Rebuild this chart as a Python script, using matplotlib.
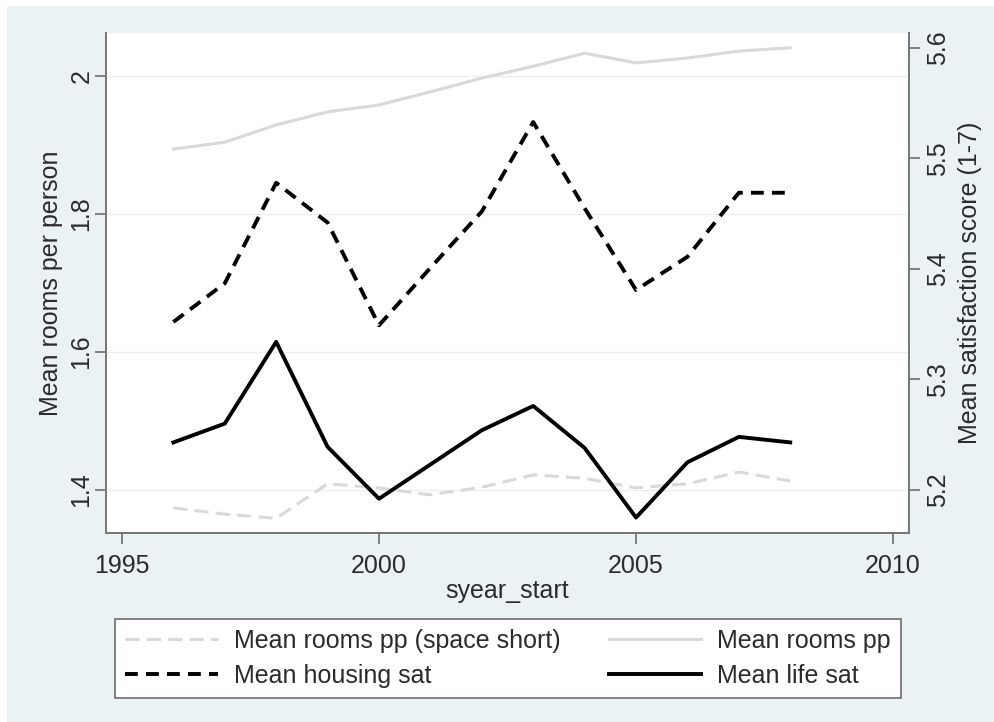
import matplotlib
matplotlib.use("Agg")
import matplotlib.pyplot as plt
from matplotlib.patches import Rectangle

plt.rcParams['font.family'] = ['Liberation Sans', 'DejaVu Sans']
plt.rcParams['text.color'] = '#2b2b2b'
plt.rcParams['axes.labelcolor'] = '#2b2b2b'
plt.rcParams['xtick.color'] = '#777777'
plt.rcParams['ytick.color'] = '#777777'
plt.rcParams['xtick.labelcolor'] = '#2b2b2b'
plt.rcParams['ytick.labelcolor'] = '#2b2b2b'

years = [1996, 1997, 1998, 1999, 2000, 2001, 2002, 2003, 2004, 2005, 2006, 2007, 2008]

# left axis: mean rooms per person
rooms_pp = [1.894, 1.904, 1.929, 1.948, 1.958, 1.977, 1.997, 2.014, 2.033, 2.019, 2.026, 2.036, 2.041]
rooms_pp_short = [1.374, 1.365, 1.359, 1.409, 1.403, 1.393, 1.404, 1.422, 1.417, 1.403, 1.409, 1.426, 1.413]

# right axis: mean satisfaction scores
housing_sat = [5.352, 5.387, 5.478, 5.442, 5.349, 5.401, 5.452, 5.533, 5.455, 5.381, 5.411, 5.469, 5.469]
life_sat = [5.243, 5.260, 5.334, 5.239, 5.192, 5.223, 5.254, 5.276, 5.238, 5.175, 5.225, 5.248, 5.243]

xticks = [1995, 2000, 2005, 2010]
left_ticks = [1.4, 1.6, 1.8, 2.0]
left_labels = ['1.4', '1.6', '1.8', '2']
right_ticks = [5.2, 5.3, 5.4, 5.5, 5.6]

light = '#d9d9d9'
fs = 18

fig = plt.figure(figsize=(9.95, 7.22), dpi=100)
fig.patch.set_facecolor('white')
fig.patches.append(Rectangle((7 / 995, 0), 1 - 7 / 995, 716 / 722, transform=fig.transFigure,
                             facecolor='#eaf2f5', edgecolor='none', zorder=-10))

ax = fig.add_axes([106 / 995, 189 / 722, 803 / 995, 500 / 722])
ax.set_facecolor('white')
ax2 = ax.twinx()

l1, = ax.plot(years, rooms_pp_short, color=light, lw=2.2, dashes=(4.6, 2.4))
l2, = ax.plot(years, rooms_pp, color=light, lw=2.2)
l3, = ax2.plot(years, housing_sat, color='black', lw=2.8, dashes=(3.3, 2.1))
l4, = ax2.plot(years, life_sat, color='black', lw=2.8)

ax.set_xlim(1994.69, 2010.31)
ax.set_ylim(1.3377, 2.0623)
ax2.set_ylim(5.161, 5.6136)

ax.set_xticks(xticks)
ax.set_yticks(left_ticks)
ax.set_yticklabels(left_labels, rotation=90, va='center')
ax2.set_yticks(right_ticks)
ax2.set_yticklabels([str(t) for t in right_ticks], rotation=90, va='center')

ax.grid(axis='y', color='#eeeeee', lw=1)
ax.set_axisbelow(True)

for a in (ax, ax2):
    a.spines['top'].set_visible(False)
    for s in ('left', 'right', 'bottom'):
        a.spines[s].set_color('#777777')
        a.spines[s].set_linewidth(1.3)
    a.tick_params(labelsize=fs, length=8, width=1.3)

ax.tick_params(axis='y', pad=1)
ax.tick_params(axis='x', pad=7)
ax2.tick_params(axis='y', pad=4)

ax.set_xlabel('syear_start', fontsize=fs, labelpad=1)
ax.set_ylabel('Mean rooms per person', fontsize=fs, labelpad=5)
ax2.set_ylabel('Mean satisfaction score (1-7)', fontsize=fs, labelpad=6)

leg = fig.legend([l1, l3, l2, l4],
                 ['Mean rooms pp (space short)', 'Mean housing sat', 'Mean rooms pp', 'Mean life sat'],
                 loc='lower left', bbox_to_anchor=(115 / 995, 24 / 722, 786 / 995, 81 / 722),
                 mode='expand', ncol=2, fontsize=fs, handlelength=3.7, handletextpad=0.65,
                 labelspacing=0.45, borderpad=0.4, borderaxespad=0, fancybox=False,
                 framealpha=1)
leg.get_frame().set_edgecolor('#777777')
leg.get_frame().set_linewidth(1.3)

fig.savefig('out.png', dpi=100)
